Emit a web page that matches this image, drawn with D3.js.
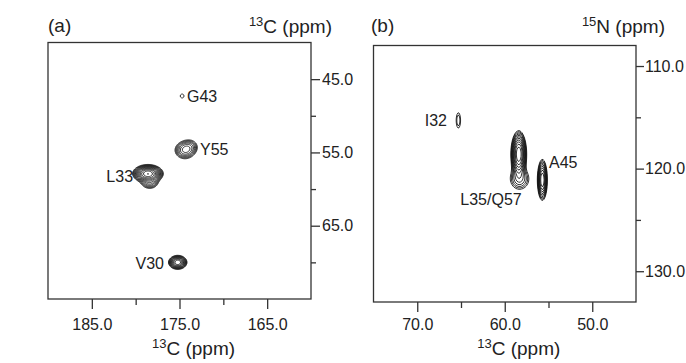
<!DOCTYPE html>
<html>
<head>
<meta charset="utf-8">
<script src="https://cdn.jsdelivr.net/npm/d3@7.9.0/dist/d3.min.js"></script>
<style>
  body { margin: 0; background: #fff; }
  svg { display: block; font-family: "Liberation Sans", Arial, sans-serif; }
</style>
</head>
<body>
<svg id="chart" width="686" height="363"></svg>
<script>
// ---- panel (a): 13C' (x) vs 13CA (y) ----
// peak components: centre (ppm), half-extent of outermost contour (ppm), number of contour levels
const aPeakC = [174.7, 174.4, 173.8, 178.6, 178.4, 175.2];
const aPeakN = [47.3, 54.7, 54.2, 57.9, 59.1, 70.0];
const aPeakWc = [0.22, 1.1, 0.7, 1.75, 0.9, 1.05];
const aPeakWn = [0.27, 1.15, 0.75, 1.25, 0.8, 0.95];
const aPeakLevels = [0.5, 6, 3, 12, 5, 10];

const aLabels = ['G43', 'Y55', 'L33', 'V30'];
const aLabelC = [174.15, 172.66, 180.3, 176.77];
const aLabelN = [47.3, 54.53, 58.2, 70.1];
const aLabelAnchor = ['start', 'start', 'end', 'end'];

const aXTicks = [185, 175, 165];
const aXMinor = [180, 170];
const aYTicks = [45, 55, 65];
const aYMinor = [50, 60, 70];

// ---- panel (b): 13CA (x) vs 15N (y) ----
const bPeakC = [65.3, 58.4, 58.3, 55.7];
const bPeakN = [115.3, 118.6, 121.0, 121.1];
const bPeakWc = [0.25, 0.9, 1.05, 0.56];
const bPeakWn = [0.75, 2.3, 1.0, 2.0];
const bPeakLevels = [2, 11, 4, 9];

const bLabels = ['I32', 'A45', 'L35/Q57'];
const bLabelC = [66.6, 54.94, 61.57];
const bLabelN = [115.26, 119.35, 122.96];
const bLabelAnchor = ['end', 'start', 'middle'];

const bXTicks = [70, 60, 50];
const bXMinor = [65, 55];
const bYTicks = [110, 120, 130];
const bYMinor = [115, 125];

const svg = d3.select('#chart');
const ink = '#222';
const F = 1.3; // contour level ratio

function sup(sel, x, y, anchor, iso, nucleus, rest) {
  const t = sel.append('text')
    .attr('x', x).attr('y', y)
    .attr('text-anchor', anchor)
    .attr('fill', ink);
  t.append('tspan').attr('font-size', 13).attr('dy', -7).text(iso);
  t.append('tspan').attr('font-size', 19).attr('dy', 7).text(nucleus);
  t.append('tspan').attr('font-size', 19).text(rest);
}

function drawPanel(p) {
  const x = d3.scaleLinear().domain(p.xDomain).range([p.left, p.right]);
  const y = d3.scaleLinear().domain(p.yDomain).range([p.top, p.bottom]);
  const g = svg.append('g');

  // contour field
  const w = Math.round(p.right - p.left);
  const h = Math.round(p.bottom - p.top);
  const peaks = p.peakC.map((c, i) => {
    const k = p.levels[i];
    const s = Math.sqrt(2 * k * Math.log(F));
    return { c, n: p.peakN[i], sc: p.wc[i] / s, sn: p.wn[i] / s, amp: Math.pow(F, k) };
  });
  const values = new Float64Array(w * h);
  for (let j = 0; j < h; j++) {
    const nv = y.invert(p.top + j + 0.5);
    for (let i = 0; i < w; i++) {
      const cv = x.invert(p.left + i + 0.5);
      let v = 0;
      for (const pk of peaks) {
        const dc = (cv - pk.c) / pk.sc, dn = (nv - pk.n) / pk.sn;
        const e = 0.5 * (dc * dc + dn * dn);
        if (e < 30) v += pk.amp * Math.exp(-e);
      }
      values[j * w + i] = v;
    }
  }
  const thresholds = d3.range(0, 20).map(j => Math.pow(F, j));
  const contours = d3.contours().size([w, h]).thresholds(thresholds)(values);
  g.append('g')
    .attr('transform', `translate(${p.left},${p.top})`)
    .selectAll('path')
    .data(contours)
    .join('path')
    .attr('d', d3.geoPath())
    .attr('fill', 'none')
    .attr('stroke', '#111')
    .attr('stroke-width', 0.85);

  // frame
  g.append('rect')
    .attr('x', p.left).attr('y', p.top)
    .attr('width', p.right - p.left).attr('height', p.bottom - p.top)
    .attr('fill', 'none').attr('stroke', '#333').attr('stroke-width', 1.3);

  const fmt = d3.format('.1f');
  const styleAxis = a => {
    a.select('.domain').remove();
    a.selectAll('line').attr('stroke', '#333').attr('stroke-width', 1.3);
    a.selectAll('text').attr('fill', ink).attr('font-size', 16).attr('font-family', null);
  };

  g.append('g').attr('transform', `translate(0,${p.bottom})`)
    .call(d3.axisBottom(x).tickValues(p.xTicks).tickSize(10).tickPadding(p.xPad).tickFormat(fmt))
    .call(styleAxis);
  g.append('g').attr('transform', `translate(0,${p.bottom})`)
    .call(d3.axisBottom(x).tickValues(p.xMinor).tickSize(6).tickFormat(''))
    .call(styleAxis);
  g.append('g').attr('transform', `translate(${p.right},0)`)
    .call(d3.axisRight(y).tickValues(p.yTicks).tickSize(p.ySize).tickPadding(p.yPad).tickFormat(fmt))
    .call(styleAxis);
  g.append('g').attr('transform', `translate(${p.right},0)`)
    .call(d3.axisRight(y).tickValues(p.yMinor).tickSize(5).tickFormat(''))
    .call(styleAxis);

  // peak labels
  g.selectAll('text.peak')
    .data(p.labels)
    .join('text')
    .attr('class', 'peak')
    .attr('x', (d, i) => x(p.labelC[i]))
    .attr('y', (d, i) => y(p.labelN[i]))
    .attr('dy', '0.36em')
    .attr('text-anchor', (d, i) => p.labelAnchor[i])
    .attr('font-size', 16)
    .attr('fill', ink)
    .text(d => d);

  // panel tag and titles
  g.append('text').attr('x', p.tagX).attr('y', 32)
    .attr('font-size', 19).attr('fill', ink).text(p.tag);
  sup(g, p.topTitleX, 33, 'end', p.yIso, p.yNuc, ' (ppm)');
  sup(g, (p.left + p.right) / 2 + 14, 355, 'middle', '13', 'C', ' (ppm)');
}

drawPanel({
  left: 48, right: 311, top: 42.5, bottom: 299,
  xDomain: [190, 160], yDomain: [40, 75],
  peakC: aPeakC, peakN: aPeakN, wc: aPeakWc, wn: aPeakWn, levels: aPeakLevels,
  labels: aLabels, labelC: aLabelC, labelN: aLabelN, labelAnchor: aLabelAnchor,
  xTicks: aXTicks, xMinor: aXMinor, yTicks: aYTicks, yMinor: aYMinor,
  xPad: 9.6, ySize: 9, yPad: 2,
  tag: '(a)', tagX: 48, topTitleX: 332, yIso: '13', yNuc: 'C'
});

drawPanel({
  left: 373.5, right: 636, top: 45.5, bottom: 302,
  xDomain: [75, 45], yDomain: [108, 133],
  peakC: bPeakC, peakN: bPeakN, wc: bPeakWc, wn: bPeakWn, levels: bPeakLevels,
  labels: bLabels, labelC: bLabelC, labelN: bLabelN, labelAnchor: bLabelAnchor,
  xTicks: bXTicks, xMinor: bXMinor, yTicks: bYTicks, yMinor: bYMinor,
  xPad: 6.6, ySize: 8, yPad: 1,
  tag: '(b)', tagX: 371, topTitleX: 665, yIso: '15', yNuc: 'N'
});
</script>
</body>
</html>
